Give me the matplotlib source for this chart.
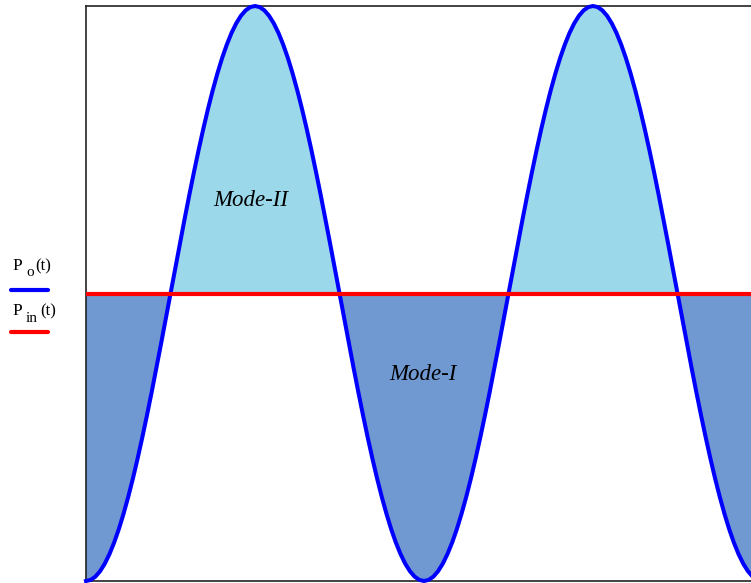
import numpy as np
import matplotlib.pyplot as plt
from matplotlib.lines import Line2D

# time axis in degrees (two periods), sampled every 5 deg
t_deg = list(range(0, 725, 5))

# output power P_o(t) over a half period (0..180 deg)
# 0 = bottom of the plot, 2 = top of the plot
rise = [0.0000, 0.0038, 0.0152, 0.0341, 0.0603, 0.0937, 0.1340, 0.1808,
        0.2340, 0.2929, 0.3572, 0.4264, 0.5000, 0.5774, 0.6580, 0.7412,
        0.8264, 0.9128, 1.0000, 1.0872, 1.1736, 1.2588, 1.3420, 1.4226,
        1.5000, 1.5736, 1.6428, 1.7071, 1.7660, 1.8192, 1.8660, 1.9063,
        1.9397, 1.9659, 1.9848, 1.9962, 2.0000]
period_vals = rise + rise[-2:0:-1]
p_out = period_vals + period_vals + [0.0]

# input power P_in(t), constant
p_in_level = 1.0

mode_labels = ["Mode-II", "Mode-I"]

light_fill = "#9bd8ea"
dark_fill = "#7099d2"

t = np.array(t_deg, dtype=float)
po = np.array(p_out)
pin = np.full_like(t, p_in_level)

fig = plt.figure(figsize=(7.51, 5.83), dpi=100)
ax = fig.add_axes([86 / 751, 2 / 583, 676 / 751, 575 / 583])

ax.fill_between(t, pin, po, where=po >= pin, interpolate=True,
                color=light_fill, lw=0)
ax.fill_between(t, pin, po, where=po <= pin, interpolate=True,
                color=dark_fill, lw=0)
ax.plot(t, po, color="#0000ff", lw=2.9, clip_on=False, zorder=3)
ax.plot(t, pin, color="#ff0000", lw=3.0, zorder=4)

ax.set_xlim(0, 720)
ax.set_ylim(0, 2)
ax.set_xticks([])
ax.set_yticks([])
for s in ax.spines.values():
    s.set_linewidth(1.2)
    s.set_color("#222222")

serif = ["Liberation Serif", "DejaVu Serif"]
ax.text(176, 1.325, mode_labels[0], fontsize=16.5, style="italic",
        family=serif, ha="center", va="center")
ax.text(359, 0.717, mode_labels[1], fontsize=16.5, style="italic",
        family=serif, ha="center", va="center")

# Mathcad-style legend at the left
def fig_xy(px, py):
    return px / 751, 1 - py / 583

# (subscript, colour, P baseline, subscript baseline, line y, "(t)" x)
legend_rows = [("o", "#0000ff", 270, 276, 290, 35),
               ("in", "#ff0000", 315, 322, 332, 40)]
for sub, color, base, sbase, ly, tx in legend_rows:
    fig.text(*fig_xy(12, base), "P", fontsize=12.5, family=serif,
             va="baseline")
    fig.text(*fig_xy(26, sbase), sub, fontsize=11, family=serif,
             va="baseline")
    fig.text(*fig_xy(tx, base), "(t)", fontsize=12, family=serif,
             va="baseline")
    lx0, lyy = fig_xy(11, ly)
    lx1, _ = fig_xy(48, ly)
    fig.add_artist(Line2D([lx0, lx1], [lyy, lyy], color=color, lw=3.0,
                          solid_capstyle="round"))

fig.savefig("out.png", dpi=100)
